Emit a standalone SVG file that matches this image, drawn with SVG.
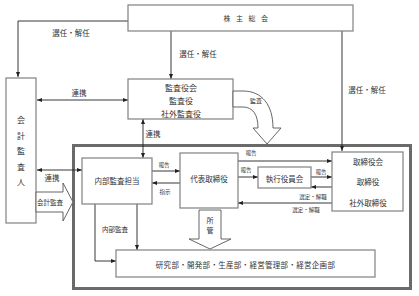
<svg xmlns="http://www.w3.org/2000/svg" width="419" height="296" viewBox="0 0 419 296">
<defs>
<marker id="ah" viewBox="0 0 10 10" refX="10" refY="5" markerWidth="5" markerHeight="5" markerUnits="userSpaceOnUse" orient="auto-start-reverse"><path d="M0,1 L10,5 L0,9 z" fill="#222"/></marker>
</defs>
<style>
.box{fill:#fff;stroke:#808080;stroke-width:1.2}
.t{font-family:"Noto Sans CJK JP",sans-serif;font-size:7.5px;fill:#333;text-anchor:middle;dominant-baseline:central}
.s{font-size:5.5px}
.m{font-size:6.5px}
.c{fill:none;stroke:#222;stroke-width:0.9}
.blk{fill:#fff;stroke:#555;stroke-width:0.9}
</style>
<rect width="419" height="296" fill="#fff"/>
<g id="container"><rect x="73.5" y="145.5" width="337" height="143" fill="none" stroke="#6a6a6a" stroke-width="3"/></g>
<g id="connectors">
<path class="c" d="M128,21 H18 V77" marker-end="url(#ah)"/>
<path class="c" d="M171,31 V79" marker-end="url(#ah)"/>
<path class="c" d="M342,31 V151" marker-end="url(#ah)"/>
<path class="c" d="M37,100 H128" marker-start="url(#ah)" marker-end="url(#ah)"/>
<path class="c" d="M143,119 V158" marker-start="url(#ah)" marker-end="url(#ah)"/>
<path class="c" d="M37,170 H82" marker-start="url(#ah)" marker-end="url(#ah)"/>
<path class="c" d="M152,171 H180" marker-end="url(#ah)"/>
<path class="c" d="M180,183 H152" marker-end="url(#ah)"/>
<path class="c" d="M238,161 H332" marker-end="url(#ah)"/>
<path class="c" d="M238,177 H258" marker-end="url(#ah)"/>
<path class="c" d="M311,177 H332" marker-end="url(#ah)"/>
<path class="c" d="M332,187 H311" marker-end="url(#ah)"/>
<path class="c" d="M332,203 H238" marker-end="url(#ah)"/>
<path class="c" d="M95,204 V261 H116" marker-end="url(#ah)"/>
<path class="c" d="M137,204 V250" marker-end="url(#ah)"/>
<text class="t" x="71" y="32">選任・解任</text>
<text class="t" x="198" y="53">選任・解任</text>
<text class="t" x="367" y="89">選任・解任</text>
<text class="t" x="79" y="92">連携</text>
<text class="t" x="153" y="133">連携</text>
<text class="t" x="52" y="177">連携</text>
<text class="t s" x="164" y="165">報告</text>
<text class="t s" x="165" y="192">指示</text>
<text class="t s" x="251" y="153">報告</text>
<text class="t s" x="246" y="170">報告</text>
<text class="t s" x="321" y="172">報告</text>
<text class="t s" x="313" y="197">選定・解職</text>
<text class="t s" x="306" y="210">選定・解職</text>
<text class="t m" x="115" y="229">内部監査</text>
</g>
<g id="shareholders"><rect class="box" x="128" y="5" width="225" height="26"/><text class="t" x="223.5" y="18" style="text-anchor:start;letter-spacing:5.5px;font-size:7px">株主総会</text></g>
<g id="auditor"><rect class="box" x="6" y="78" width="30" height="145"/><text class="t" style="font-size:8px"><tspan x="21" y="119">会</tspan><tspan x="21" y="134.5">計</tspan><tspan x="21" y="150">監</tspan><tspan x="21" y="165.5">査</tspan><tspan x="21" y="181">人</tspan></text></g>
<g id="kansayakukai"><rect class="box" x="128" y="79" width="105" height="40"/><text class="t" style="font-size:8px"><tspan x="181" y="87">監査役会</tspan><tspan x="181" y="100">監査役</tspan><tspan x="181" y="113">社外監査役</tspan></text></g>
<g id="audit-arrow"><path class="blk" d="M233,91 H243 C262,91 273,105 273,128 H281 L267,144 L253,128 H258 C258,115 253,107 243,107 H233 z"/><text class="t" style="font-size:6px" x="256" y="100">監査</text></g>
<g id="kaikei-arrow"><polygon class="blk" points="36,192 63,192 63,183 73,202 63,221 63,212 36,212"/><text class="t m" x="50" y="202">会計監査</text></g>
<g id="naibu"><rect class="box" x="82" y="158" width="70" height="46"/><text class="t" x="117" y="180">内部監査担当</text></g>
<g id="daihyo"><rect class="box" x="180" y="153" width="58" height="55"/><text class="t" x="209" y="178">代表取締役</text></g>
<g id="shikko"><rect class="box" x="258" y="167" width="53" height="21"/><text class="t" x="284.5" y="178">執行役員会</text></g>
<g id="torishimari"><rect class="box" x="332" y="152" width="71" height="59"/><text class="t"><tspan x="368" y="161">取締役会</tspan><tspan x="368" y="181">取締役</tspan><tspan x="368" y="202">社外取締役</tspan></text></g>
<g id="shokan-arrow"><polygon class="blk" points="199,210 221,210 221,239 231,239 210,249 189,239 199,239"/><text class="t" style="font-size:7px"><tspan x="210" y="220">所</tspan><tspan x="210" y="230">管</tspan></text></g>
<g id="departments"><rect class="box" x="116" y="250" width="259" height="27"/><text class="t" x="245.5" y="264" style="letter-spacing:0.3px">研究部・開発部・生産部・経営管理部・経営企画部</text></g>
</svg>
